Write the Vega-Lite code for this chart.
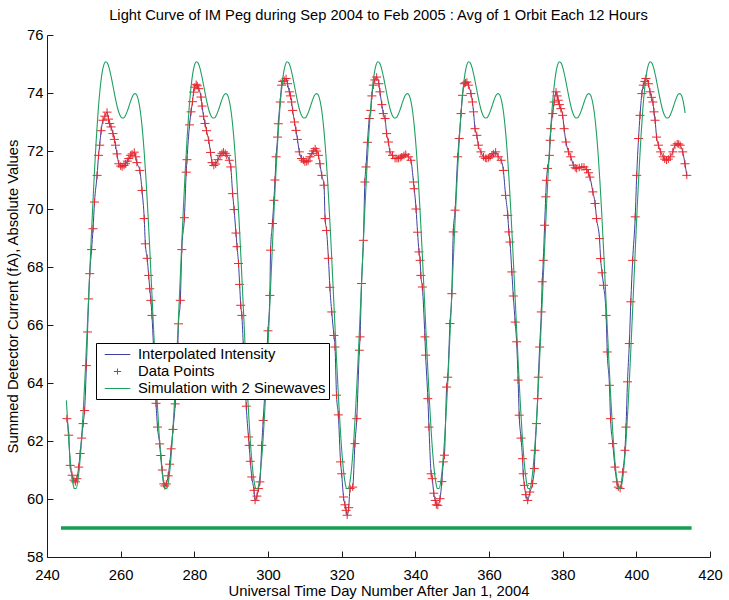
{
  "$schema": "https://vega.github.io/schema/vega-lite/v6.json",
  "width": 663,
  "height": 522,
  "autosize": {"type": "none"},
  "padding": {"left": 47, "top": 35, "right": 19, "bottom": 43},
  "background": "white",
  "title": {
    "text": "Light Curve of IM Peg during Sep 2004 to Feb 2005 : Avg of 1 Orbit Each 12 Hours",
    "font": "Liberation Sans",
    "fontSize": 14.7,
    "fontWeight": "normal",
    "color": "#000",
    "anchor": "middle",
    "frame": "group",
    "baseline": "alphabetic",
    "offset": 12,
    "dy": 20
  },
  "config": {
    "view": {"stroke": null},
    "font": "Liberation Sans",
    "axis": {
      "domainColor": "#1a1a1a",
      "tickColor": "#1a1a1a",
      "labelColor": "#000",
      "titleColor": "#000",
      "labelFont": "Liberation Sans",
      "titleFont": "Liberation Sans",
      "labelFontSize": 14.8,
      "titleFontSize": 14.8,
      "titleFontWeight": "normal",
      "grid": false,
      "tickSize": -6,
      "labelFlush": false
    },
    "legend": {
      "orient": "none",
      "legendX": 49,
      "legendY": 308,
      "title": null,
      "strokeColor": "#000",
      "fillColor": "white",
      "padding": 3,
      "rowPadding": 1,
      "symbolSize": 256,
      "symbolOffset": 10,
      "symbolStrokeWidth": 1,
      "labelOffset": 12,
      "labelFont": "Liberation Sans",
      "labelFontSize": 14.8,
      "labelColor": "#000",
      "labelLimit": 400
    }
  },
  "datasets": {
    "points": [
      {"x":245.4,"y":62.77},{"x":245.9,"y":62.2},{"x":246.3,"y":61.16},{"x":246.8,"y":60.82},{"x":247.3,"y":60.65},
      {"x":247.7,"y":60.59},{"x":248.1,"y":60.7},{"x":248.6,"y":61.1},{"x":249.0,"y":61.57},{"x":249.4,"y":62.1},
      {"x":249.8,"y":62.6},{"x":250.2,"y":63.05},{"x":250.7,"y":64.6},{"x":251.0,"y":65.76},{"x":251.3,"y":66.9},
      {"x":251.6,"y":67.77},{"x":252.1,"y":68.6},{"x":252.5,"y":69.32},{"x":252.9,"y":70.24},{"x":253.6,"y":71.16},
      {"x":254.0,"y":71.85},{"x":254.3,"y":72.2},{"x":254.7,"y":72.7},{"x":255.2,"y":73.06},{"x":255.7,"y":73.2},
      {"x":256.3,"y":73.34},{"x":256.7,"y":73.1},{"x":257.0,"y":72.95},{"x":257.4,"y":72.83},{"x":257.9,"y":72.6},
      {"x":258.3,"y":72.4},{"x":258.6,"y":72.2},{"x":259.0,"y":71.9},{"x":259.5,"y":71.56},{"x":260.0,"y":71.48},
      {"x":260.4,"y":71.45},{"x":260.9,"y":71.5},{"x":261.3,"y":71.56},{"x":261.8,"y":71.65},{"x":262.2,"y":71.74},
      {"x":262.7,"y":71.85},{"x":263.1,"y":71.9},{"x":263.7,"y":71.96},{"x":264.1,"y":71.8},{"x":264.4,"y":71.6},
      {"x":265.2,"y":71.33},{"x":265.8,"y":70.64},{"x":266.4,"y":69.67},{"x":266.7,"y":68.8},{"x":267.2,"y":68.3},
      {"x":267.6,"y":67.71},{"x":267.9,"y":67.25},{"x":268.2,"y":66.85},{"x":268.5,"y":66.33},{"x":268.9,"y":65.3},
      {"x":269.3,"y":64.2},{"x":269.6,"y":63.3},{"x":270.0,"y":62.48},{"x":270.6,"y":61.9},{"x":270.9,"y":61.5},
      {"x":271.3,"y":61.0},{"x":271.7,"y":60.52},{"x":272.0,"y":60.45},{"x":272.4,"y":60.52},{"x":272.9,"y":60.8},
      {"x":273.3,"y":61.2},{"x":273.7,"y":61.73},{"x":274.2,"y":62.4},{"x":274.8,"y":63.28},{"x":275.2,"y":64.4},
      {"x":275.5,"y":65.3},{"x":275.7,"y":66.04},{"x":276.2,"y":66.85},{"x":276.6,"y":68.6},{"x":277.3,"y":69.7},
      {"x":277.8,"y":71.27},{"x":278.0,"y":71.7},{"x":278.7,"y":72.9},{"x":279.1,"y":73.35},{"x":279.5,"y":73.7},
      {"x":279.8,"y":74.03},{"x":280.1,"y":74.2},{"x":280.5,"y":74.3},{"x":280.8,"y":74.25},{"x":281.2,"y":74.15},
      {"x":281.8,"y":73.86},{"x":282.1,"y":73.55},{"x":282.5,"y":73.2},{"x":282.9,"y":72.95},{"x":283.3,"y":72.7},
      {"x":283.9,"y":72.37},{"x":284.4,"y":71.95},{"x":284.8,"y":71.6},{"x":285.3,"y":71.5},{"x":285.8,"y":71.55},
      {"x":286.4,"y":71.7},{"x":287.0,"y":71.85},{"x":287.5,"y":71.92},{"x":287.9,"y":71.97},{"x":288.4,"y":71.92},
      {"x":288.8,"y":71.85},{"x":289.5,"y":71.68},{"x":289.9,"y":71.45},{"x":290.4,"y":70.53},{"x":290.8,"y":69.98},
      {"x":291.3,"y":69.17},{"x":291.6,"y":68.7},{"x":292.0,"y":68.12},{"x":292.3,"y":67.4},{"x":292.6,"y":66.68},
      {"x":292.9,"y":66.33},{"x":293.3,"y":65.3},{"x":293.7,"y":64.3},{"x":294.1,"y":63.2},{"x":294.7,"y":62.14},
      {"x":294.9,"y":61.85},{"x":295.2,"y":61.3},{"x":295.6,"y":60.76},{"x":296.2,"y":60.3},{"x":296.5,"y":59.95},
      {"x":297.0,"y":60.1},{"x":297.4,"y":60.36},{"x":297.8,"y":60.59},{"x":298.3,"y":61.85},{"x":298.7,"y":62.71},
      {"x":299.1,"y":63.6},{"x":299.5,"y":64.6},{"x":300.0,"y":65.8},{"x":300.5,"y":67.02},{"x":300.7,"y":68.58},
      {"x":301.2,"y":69.5},{"x":301.6,"y":70.3},{"x":301.9,"y":71.0},{"x":302.2,"y":71.8},{"x":302.6,"y":72.48},
      {"x":302.8,"y":72.94},{"x":303.3,"y":73.69},{"x":303.7,"y":74.27},{"x":304.0,"y":74.4},{"x":304.4,"y":74.44},
      {"x":304.9,"y":74.5},{"x":305.3,"y":74.32},{"x":305.8,"y":74.04},{"x":306.1,"y":73.9},{"x":306.4,"y":73.69},
      {"x":306.7,"y":73.4},{"x":307.2,"y":73.0},{"x":307.6,"y":72.71},{"x":308.0,"y":72.4},{"x":308.5,"y":71.97},
      {"x":309.1,"y":71.74},{"x":309.6,"y":71.68},{"x":310.0,"y":71.62},{"x":310.5,"y":71.63},{"x":310.9,"y":71.66},
      {"x":311.4,"y":71.8},{"x":311.9,"y":71.91},{"x":312.3,"y":72.0},{"x":312.8,"y":72.08},{"x":313.2,"y":72.0},
      {"x":313.7,"y":71.85},{"x":314.1,"y":71.56},{"x":314.6,"y":71.16},{"x":315.2,"y":70.82},{"x":315.5,"y":69.67},
      {"x":315.9,"y":69.26},{"x":316.4,"y":68.3},{"x":316.8,"y":67.3},{"x":317.3,"y":66.45},{"x":317.9,"y":65.64},
      {"x":318.2,"y":65.24},{"x":318.6,"y":63.58},{"x":319.1,"y":62.9},{"x":319.7,"y":61.28},{"x":320.0,"y":60.87},
      {"x":320.5,"y":60.07},{"x":320.9,"y":59.8},{"x":321.2,"y":59.61},{"x":321.5,"y":59.44},{"x":321.9,"y":59.7},
      {"x":322.3,"y":60.36},{"x":323.0,"y":60.41},{"x":323.6,"y":61.91},{"x":324.1,"y":62.77},{"x":324.8,"y":65.13},
      {"x":325.0,"y":65.59},{"x":325.4,"y":67.43},{"x":325.9,"y":68.92},{"x":326.3,"y":70.93},{"x":326.6,"y":71.45},
      {"x":327.0,"y":72.3},{"x":327.5,"y":73.12},{"x":327.9,"y":73.4},{"x":328.2,"y":73.9},{"x":328.6,"y":74.27},
      {"x":329.0,"y":74.45},{"x":329.5,"y":74.55},{"x":330.1,"y":74.32},{"x":330.4,"y":74.04},{"x":330.9,"y":73.6},
      {"x":331.3,"y":73.29},{"x":331.8,"y":73.12},{"x":332.2,"y":72.6},{"x":332.7,"y":72.31},{"x":333.1,"y":71.97},
      {"x":333.8,"y":71.85},{"x":334.5,"y":71.74},{"x":335.0,"y":71.74},{"x":335.4,"y":71.74},{"x":335.9,"y":71.77},
      {"x":336.3,"y":71.8},{"x":336.9,"y":71.85},{"x":337.4,"y":71.89},{"x":338.1,"y":71.8},{"x":338.8,"y":71.68},
      {"x":339.5,"y":70.93},{"x":339.7,"y":70.7},{"x":340.2,"y":70.0},{"x":340.6,"y":69.2},{"x":341.0,"y":68.52},
      {"x":341.3,"y":68.23},{"x":341.5,"y":67.71},{"x":341.9,"y":67.31},{"x":342.6,"y":65.59},{"x":342.8,"y":64.96},
      {"x":343.4,"y":63.46},{"x":343.7,"y":62.48},{"x":344.3,"y":60.87},{"x":344.6,"y":60.7},{"x":345.0,"y":60.2},
      {"x":345.4,"y":59.95},{"x":345.7,"y":59.8},{"x":346.1,"y":59.78},{"x":346.7,"y":60.01},{"x":347.2,"y":60.6},
      {"x":347.6,"y":61.28},{"x":347.9,"y":61.51},{"x":348.5,"y":63.86},{"x":348.8,"y":64.2},{"x":349.4,"y":66.05},
      {"x":349.9,"y":67.08},{"x":350.3,"y":69.21},{"x":350.8,"y":69.96},{"x":351.5,"y":71.8},{"x":351.9,"y":72.43},
      {"x":352.4,"y":73.29},{"x":352.8,"y":73.92},{"x":353.3,"y":74.32},{"x":353.6,"y":74.35},{"x":354.0,"y":74.38},
      {"x":354.4,"y":74.27},{"x":355.1,"y":73.98},{"x":355.5,"y":73.69},{"x":355.8,"y":73.35},{"x":356.2,"y":72.77},
      {"x":356.7,"y":72.54},{"x":357.1,"y":72.2},{"x":357.8,"y":71.97},{"x":358.5,"y":71.8},{"x":359.0,"y":71.75},
      {"x":359.4,"y":71.74},{"x":359.9,"y":71.76},{"x":360.3,"y":71.8},{"x":360.8,"y":71.86},{"x":361.2,"y":71.91},
      {"x":361.8,"y":71.97},{"x":362.5,"y":71.8},{"x":363.3,"y":71.68},{"x":363.9,"y":71.33},{"x":364.5,"y":70.47},
      {"x":365.1,"y":69.78},{"x":365.4,"y":69.21},{"x":365.7,"y":68.86},{"x":366.2,"y":67.83},{"x":366.6,"y":67.0},
      {"x":367.1,"y":66.1},{"x":367.5,"y":65.42},{"x":367.9,"y":64.1},{"x":368.2,"y":62.89},{"x":368.7,"y":62.1},
      {"x":369.1,"y":61.39},{"x":369.3,"y":60.87},{"x":369.6,"y":60.47},{"x":370.0,"y":60.15},{"x":370.5,"y":59.95},
      {"x":371.1,"y":60.24},{"x":371.8,"y":60.53},{"x":372.3,"y":61.05},{"x":372.5,"y":61.68},{"x":372.9,"y":62.6},
      {"x":373.2,"y":63.46},{"x":373.4,"y":64.2},{"x":373.75,"y":65.24},{"x":374.2,"y":66.45},{"x":374.45,"y":67.49},
      {"x":374.75,"y":68.23},{"x":375.1,"y":69.44},{"x":375.4,"y":70.42},{"x":375.6,"y":70.99},{"x":375.9,"y":71.4},
      {"x":376.4,"y":71.85},{"x":376.6,"y":72.37},{"x":376.8,"y":72.77},{"x":377.3,"y":73.29},{"x":377.7,"y":73.69},
      {"x":378.2,"y":74.04},{"x":378.5,"y":73.9},{"x":378.8,"y":73.75},{"x":379.1,"y":73.6},{"x":379.5,"y":73.46},
      {"x":380.0,"y":73.23},{"x":380.4,"y":72.77},{"x":380.9,"y":72.31},{"x":381.6,"y":71.97},{"x":382.2,"y":71.8},
      {"x":382.9,"y":71.51},{"x":383.4,"y":71.42},{"x":383.8,"y":71.39},{"x":384.5,"y":71.43},{"x":385.2,"y":71.45},
      {"x":385.8,"y":71.45},{"x":386.5,"y":71.36},{"x":387.0,"y":71.25},{"x":387.4,"y":71.1},{"x":388.2,"y":70.59},
      {"x":388.8,"y":70.19},{"x":389.2,"y":69.67},{"x":390.0,"y":68.98},{"x":390.3,"y":68.29},{"x":390.7,"y":67.8},
      {"x":391.1,"y":67.37},{"x":391.8,"y":66.33},{"x":392.1,"y":65.07},{"x":392.7,"y":63.92},{"x":393.0,"y":62.77},
      {"x":393.6,"y":61.91},{"x":394.2,"y":61.1},{"x":394.7,"y":60.59},{"x":395.1,"y":60.41},{"x":395.6,"y":60.36},
      {"x":396.3,"y":60.93},{"x":396.9,"y":61.68},{"x":397.2,"y":62.48},{"x":397.6,"y":64.04},{"x":398.1,"y":65.36},
      {"x":398.5,"y":66.8},{"x":399.0,"y":68.23},{"x":399.7,"y":69.73},{"x":400.1,"y":71.16},{"x":400.6,"y":72.43},
      {"x":401.0,"y":73.23},{"x":401.5,"y":73.98},{"x":401.9,"y":74.27},{"x":402.3,"y":74.4},{"x":402.6,"y":74.5},
      {"x":403.3,"y":74.32},{"x":403.7,"y":74.04},{"x":404.1,"y":73.85},{"x":404.5,"y":73.69},{"x":404.8,"y":73.35},
      {"x":405.1,"y":73.06},{"x":405.5,"y":72.48},{"x":406.0,"y":72.2},{"x":406.6,"y":71.97},{"x":407.3,"y":71.8},
      {"x":407.7,"y":71.72},{"x":408.2,"y":71.68},{"x":408.7,"y":71.72},{"x":409.2,"y":71.8},{"x":409.9,"y":71.97},
      {"x":410.5,"y":72.2},{"x":411.1,"y":72.25},{"x":411.5,"y":72.24},{"x":411.9,"y":72.2},{"x":412.6,"y":71.97},
      {"x":413.2,"y":71.56},{"x":413.7,"y":71.16}
    ],
    "sim": [
      {"x":245.26,"y":63.40},{"x":245.76,"y":62.31},{"x":246.26,"y":61.42},{"x":246.76,"y":60.78},{"x":247.26,"y":60.41},
      {"x":247.4,"y":60.36},{"x":247.9,"y":60.36},{"x":248.4,"y":60.65},{"x":248.9,"y":61.24},{"x":249.4,"y":62.09},
      {"x":249.9,"y":63.17},{"x":250.4,"y":64.42},{"x":250.9,"y":65.80},{"x":251.4,"y":67.23},{"x":251.9,"y":68.67},
      {"x":252.4,"y":70.06},{"x":252.9,"y":71.33},{"x":253.4,"y":72.46},{"x":253.9,"y":73.40},{"x":254.4,"y":74.13},
      {"x":254.9,"y":74.65},{"x":255.4,"y":74.96},{"x":255.9,"y":75.08},{"x":256.4,"y":75.03},{"x":256.9,"y":74.85},
      {"x":257.4,"y":74.57},{"x":257.9,"y":74.25},{"x":258.4,"y":73.92},{"x":258.9,"y":73.62},{"x":259.4,"y":73.37},
      {"x":259.9,"y":73.21},{"x":260.4,"y":73.14},{"x":260.9,"y":73.15},{"x":261.4,"y":73.25},{"x":261.9,"y":73.41},
      {"x":262.4,"y":73.60},{"x":262.9,"y":73.79},{"x":263.4,"y":73.93},{"x":263.9,"y":73.98},{"x":264.4,"y":73.92},
      {"x":264.9,"y":73.70},{"x":265.4,"y":73.31},{"x":265.9,"y":72.72},{"x":266.4,"y":71.94},{"x":266.9,"y":70.98},
      {"x":267.4,"y":69.86},{"x":267.9,"y":68.62},{"x":268.4,"y":67.30},{"x":268.9,"y":65.95},{"x":269.4,"y":64.63},
      {"x":269.9,"y":63.40},{"x":270.4,"y":62.31},{"x":270.9,"y":61.42},{"x":271.4,"y":60.78},{"x":271.9,"y":60.41},
      {"x":272.04,"y":60.36},{"x":272.54,"y":60.36},{"x":273.04,"y":60.65},{"x":273.54,"y":61.24},{"x":274.04,"y":62.09},
      {"x":274.54,"y":63.17},{"x":275.04,"y":64.42},{"x":275.54,"y":65.80},{"x":276.04,"y":67.23},{"x":276.54,"y":68.67},
      {"x":277.04,"y":70.06},{"x":277.54,"y":71.33},{"x":278.04,"y":72.46},{"x":278.54,"y":73.40},{"x":279.04,"y":74.13},
      {"x":279.54,"y":74.65},{"x":280.04,"y":74.96},{"x":280.54,"y":75.08},{"x":281.04,"y":75.03},{"x":281.54,"y":74.85},
      {"x":282.04,"y":74.57},{"x":282.54,"y":74.25},{"x":283.04,"y":73.92},{"x":283.54,"y":73.62},{"x":284.04,"y":73.37},
      {"x":284.54,"y":73.21},{"x":285.04,"y":73.14},{"x":285.54,"y":73.15},{"x":286.04,"y":73.25},{"x":286.54,"y":73.41},
      {"x":287.04,"y":73.60},{"x":287.54,"y":73.79},{"x":288.04,"y":73.93},{"x":288.54,"y":73.98},{"x":289.04,"y":73.92},
      {"x":289.54,"y":73.70},{"x":290.04,"y":73.31},{"x":290.54,"y":72.72},{"x":291.04,"y":71.94},{"x":291.54,"y":70.98},
      {"x":292.04,"y":69.86},{"x":292.54,"y":68.62},{"x":293.04,"y":67.30},{"x":293.54,"y":65.95},{"x":294.04,"y":64.63},
      {"x":294.54,"y":63.40},{"x":295.04,"y":62.31},{"x":295.54,"y":61.42},{"x":296.04,"y":60.78},{"x":296.54,"y":60.41},
      {"x":296.68,"y":60.36},{"x":297.18,"y":60.36},{"x":297.68,"y":60.65},{"x":298.18,"y":61.24},{"x":298.68,"y":62.09},
      {"x":299.18,"y":63.17},{"x":299.68,"y":64.42},{"x":300.18,"y":65.80},{"x":300.68,"y":67.23},{"x":301.18,"y":68.67},
      {"x":301.68,"y":70.06},{"x":302.18,"y":71.33},{"x":302.68,"y":72.46},{"x":303.18,"y":73.40},{"x":303.68,"y":74.13},
      {"x":304.18,"y":74.65},{"x":304.68,"y":74.96},{"x":305.18,"y":75.08},{"x":305.68,"y":75.03},{"x":306.18,"y":74.85},
      {"x":306.68,"y":74.57},{"x":307.18,"y":74.25},{"x":307.68,"y":73.92},{"x":308.18,"y":73.62},{"x":308.68,"y":73.37},
      {"x":309.18,"y":73.21},{"x":309.68,"y":73.14},{"x":310.18,"y":73.15},{"x":310.68,"y":73.25},{"x":311.18,"y":73.41},
      {"x":311.68,"y":73.60},{"x":312.18,"y":73.79},{"x":312.68,"y":73.93},{"x":313.18,"y":73.98},{"x":313.68,"y":73.92},
      {"x":314.18,"y":73.70},{"x":314.68,"y":73.31},{"x":315.18,"y":72.72},{"x":315.68,"y":71.94},{"x":316.18,"y":70.98},
      {"x":316.68,"y":69.86},{"x":317.18,"y":68.62},{"x":317.68,"y":67.30},{"x":318.18,"y":65.95},{"x":318.68,"y":64.63},
      {"x":319.18,"y":63.40},{"x":319.68,"y":62.31},{"x":320.18,"y":61.42},{"x":320.68,"y":60.78},{"x":321.18,"y":60.41},
      {"x":321.32,"y":60.36},{"x":321.82,"y":60.36},{"x":322.32,"y":60.65},{"x":322.82,"y":61.24},{"x":323.32,"y":62.09},
      {"x":323.82,"y":63.17},{"x":324.32,"y":64.42},{"x":324.82,"y":65.80},{"x":325.32,"y":67.23},{"x":325.82,"y":68.67},
      {"x":326.32,"y":70.06},{"x":326.82,"y":71.33},{"x":327.32,"y":72.46},{"x":327.82,"y":73.40},{"x":328.32,"y":74.13},
      {"x":328.82,"y":74.65},{"x":329.32,"y":74.96},{"x":329.82,"y":75.08},{"x":330.32,"y":75.03},{"x":330.82,"y":74.85},
      {"x":331.32,"y":74.57},{"x":331.82,"y":74.25},{"x":332.32,"y":73.92},{"x":332.82,"y":73.62},{"x":333.32,"y":73.37},
      {"x":333.82,"y":73.21},{"x":334.32,"y":73.14},{"x":334.82,"y":73.15},{"x":335.32,"y":73.25},{"x":335.82,"y":73.41},
      {"x":336.32,"y":73.60},{"x":336.82,"y":73.79},{"x":337.32,"y":73.93},{"x":337.82,"y":73.98},{"x":338.32,"y":73.92},
      {"x":338.82,"y":73.70},{"x":339.32,"y":73.31},{"x":339.82,"y":72.72},{"x":340.32,"y":71.94},{"x":340.82,"y":70.98},
      {"x":341.32,"y":69.86},{"x":341.82,"y":68.62},{"x":342.32,"y":67.30},{"x":342.82,"y":65.95},{"x":343.32,"y":64.63},
      {"x":343.82,"y":63.40},{"x":344.32,"y":62.31},{"x":344.82,"y":61.42},{"x":345.32,"y":60.78},{"x":345.82,"y":60.41},
      {"x":345.96,"y":60.36},{"x":346.46,"y":60.36},{"x":346.96,"y":60.65},{"x":347.46,"y":61.24},{"x":347.96,"y":62.09},
      {"x":348.46,"y":63.17},{"x":348.96,"y":64.42},{"x":349.46,"y":65.80},{"x":349.96,"y":67.23},{"x":350.46,"y":68.67},
      {"x":350.96,"y":70.06},{"x":351.46,"y":71.33},{"x":351.96,"y":72.46},{"x":352.46,"y":73.40},{"x":352.96,"y":74.13},
      {"x":353.46,"y":74.65},{"x":353.96,"y":74.96},{"x":354.46,"y":75.08},{"x":354.96,"y":75.03},{"x":355.46,"y":74.85},
      {"x":355.96,"y":74.57},{"x":356.46,"y":74.25},{"x":356.96,"y":73.92},{"x":357.46,"y":73.62},{"x":357.96,"y":73.37},
      {"x":358.46,"y":73.21},{"x":358.96,"y":73.14},{"x":359.46,"y":73.15},{"x":359.96,"y":73.25},{"x":360.46,"y":73.41},
      {"x":360.96,"y":73.60},{"x":361.46,"y":73.79},{"x":361.96,"y":73.93},{"x":362.46,"y":73.98},{"x":362.96,"y":73.92},
      {"x":363.46,"y":73.70},{"x":363.96,"y":73.31},{"x":364.46,"y":72.72},{"x":364.96,"y":71.94},{"x":365.46,"y":70.98},
      {"x":365.96,"y":69.86},{"x":366.46,"y":68.62},{"x":366.96,"y":67.30},{"x":367.46,"y":65.95},{"x":367.96,"y":64.63},
      {"x":368.46,"y":63.40},{"x":368.96,"y":62.31},{"x":369.46,"y":61.42},{"x":369.96,"y":60.78},{"x":370.46,"y":60.41},
      {"x":370.6,"y":60.36},{"x":371.1,"y":60.36},{"x":371.6,"y":60.65},{"x":372.1,"y":61.24},{"x":372.6,"y":62.09},
      {"x":373.1,"y":63.17},{"x":373.6,"y":64.42},{"x":374.1,"y":65.80},{"x":374.6,"y":67.23},{"x":375.1,"y":68.67},
      {"x":375.6,"y":70.06},{"x":376.1,"y":71.33},{"x":376.6,"y":72.46},{"x":377.1,"y":73.40},{"x":377.6,"y":74.13},
      {"x":378.1,"y":74.65},{"x":378.6,"y":74.96},{"x":379.1,"y":75.08},{"x":379.6,"y":75.03},{"x":380.1,"y":74.85},
      {"x":380.6,"y":74.57},{"x":381.1,"y":74.25},{"x":381.6,"y":73.92},{"x":382.1,"y":73.62},{"x":382.6,"y":73.37},
      {"x":383.1,"y":73.21},{"x":383.6,"y":73.14},{"x":384.1,"y":73.15},{"x":384.6,"y":73.25},{"x":385.1,"y":73.41},
      {"x":385.6,"y":73.60},{"x":386.1,"y":73.79},{"x":386.6,"y":73.93},{"x":387.1,"y":73.98},{"x":387.6,"y":73.92},
      {"x":388.1,"y":73.70},{"x":388.6,"y":73.31},{"x":389.1,"y":72.72},{"x":389.6,"y":71.94},{"x":390.1,"y":70.98},
      {"x":390.6,"y":69.86},{"x":391.1,"y":68.62},{"x":391.6,"y":67.30},{"x":392.1,"y":65.95},{"x":392.6,"y":64.63},
      {"x":393.1,"y":63.40},{"x":393.6,"y":62.31},{"x":394.1,"y":61.42},{"x":394.6,"y":60.78},{"x":395.1,"y":60.41},
      {"x":395.24,"y":60.36},{"x":395.74,"y":60.36},{"x":396.24,"y":60.65},{"x":396.74,"y":61.24},{"x":397.24,"y":62.09},
      {"x":397.74,"y":63.17},{"x":398.24,"y":64.42},{"x":398.74,"y":65.80},{"x":399.24,"y":67.23},{"x":399.74,"y":68.67},
      {"x":400.24,"y":70.06},{"x":400.74,"y":71.33},{"x":401.24,"y":72.46},{"x":401.74,"y":73.40},{"x":402.24,"y":74.13},
      {"x":402.74,"y":74.65},{"x":403.24,"y":74.96},{"x":403.74,"y":75.08},{"x":404.24,"y":75.03},{"x":404.74,"y":74.85},
      {"x":405.24,"y":74.57},{"x":405.74,"y":74.25},{"x":406.24,"y":73.92},{"x":406.74,"y":73.62},{"x":407.24,"y":73.37},
      {"x":407.74,"y":73.21},{"x":408.24,"y":73.14},{"x":408.74,"y":73.15},{"x":409.24,"y":73.25},{"x":409.74,"y":73.41},
      {"x":410.24,"y":73.60},{"x":410.74,"y":73.79},{"x":411.24,"y":73.93},{"x":411.74,"y":73.98},{"x":412.24,"y":73.92},
      {"x":412.74,"y":73.70},{"x":413.24,"y":73.31}
    ],
    "base": [
      {"x":243.8,"y":59},{"x":415.0,"y":59}
    ]
  },
  "encoding": {
    "x": {
      "field": "x",
      "type": "quantitative",
      "scale": {"domain": [240, 420], "nice": false, "zero": false},
      "axis": {
        "title": "Universal Time Day Number After Jan 1, 2004",
        "values": [240, 260, 280, 300, 320, 340, 360, 380, 400, 420],
        "labelPadding": 16,
        "titlePadding": 2
      }
    },
    "y": {
      "field": "y",
      "type": "quantitative",
      "scale": {"domain": [58, 76], "nice": false, "zero": false},
      "axis": {
        "title": "Summed Detector Current (fA), Absolute Values",
        "values": [58, 60, 62, 64, 66, 68, 70, 72, 74, 76],
        "labelPadding": 10,
        "titlePadding": 6
      }
    }
  },
  "layer": [
    {
      "data": {"name": "points"},
      "mark": {"type": "line", "interpolate": "monotone", "strokeWidth": 1},
      "encoding": {
        "color": {
          "datum": "Interpolated Intensity",
          "type": "nominal",
          "scale": {
            "domain": ["Interpolated Intensity", "Data Points", "Simulation with 2 Sinewaves"],
            "range": ["#3f3f9f", "#e8282e", "#1fa060"]
          }
        }
      }
    },
    {
      "data": {"name": "points"},
      "mark": {"type": "point", "filled": false, "strokeWidth": 1, "size": 400, "opacity": 1},
      "encoding": {
        "color": {"datum": "Data Points", "type": "nominal"},
        "shape": {
          "datum": "Data Points",
          "type": "nominal",
          "scale": {
            "domain": ["Interpolated Intensity", "Data Points", "Simulation with 2 Sinewaves"],
            "range": ["M-1.6,0H1.6", "M-0.45,0H0.45M0,-0.38V0.38", "M-1.6,0H1.6"]
          }
        }
      }
    },
    {
      "data": {"name": "sim"},
      "mark": {"type": "line", "interpolate": "monotone", "strokeWidth": 1.1},
      "encoding": {
        "color": {"datum": "Simulation with 2 Sinewaves", "type": "nominal"}
      }
    },
    {
      "data": {"name": "base"},
      "mark": {"type": "line", "strokeWidth": 3.5, "color": "#13a04e"},
      "encoding": {}
    }
  ]
}
